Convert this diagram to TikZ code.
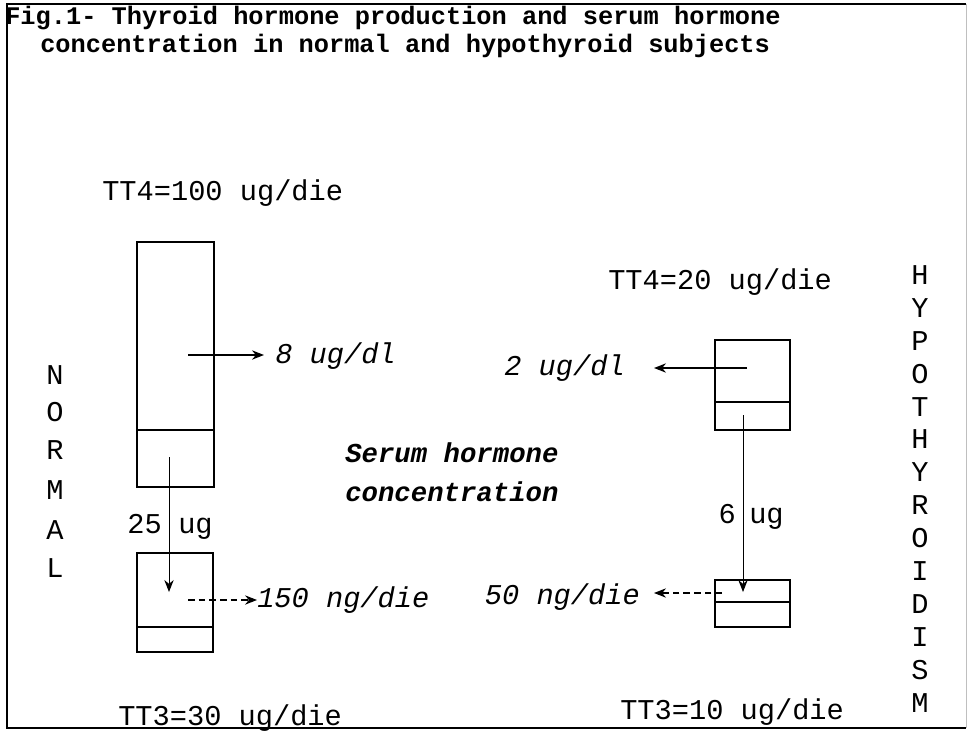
\documentclass[tikz,border=0pt]{standalone}
\usepackage{fontspec}
\usetikzlibrary{arrows.meta}
\newfontfamily\mymono{Liberation Mono}
\newcommand\titfont{\mymono\bfseries\fontsize{19}{22}\selectfont}
\newcommand\lbfont{\mymono\fontsize{21.5}{24}\selectfont}
\newcommand\itfont{\mymono\itshape\fontsize{21.5}{24}\selectfont}
\newcommand\midfont{\mymono\bfseries\itshape\fontsize{20.5}{24}\selectfont}
\begin{document}
\begin{tikzpicture}[x=0.75pt,y=-0.75pt,
  lab/.style={inner sep=0pt,font=\lbfont},
  itlab/.style={inner sep=0pt,font=\itfont},
  midlab/.style={inner sep=0pt,font=\midfont},
  tit/.style={inner sep=0pt,font=\titfont},
  letter/.style={inner sep=0pt,font=\lbfont},
  box/.style={draw,line width=1.3pt,inner sep=0pt},
  divline/.style={line width=1.3pt},
  conc/.style={line width=1pt,-{Stealth[length=9pt,width=7pt]}},
  flow/.style={line width=0.7pt,-{Stealth[length=9pt,width=7pt]}},
  dflow/.style={line width=0.8pt,dash pattern=on 5pt off 3pt,-{Stealth[length=9pt,width=7pt]}}]
\useasboundingbox (0,0) rectangle (969,734);
% frame
\draw[line width=1.2pt] (966,4) -- (7,4) -- (7,728) -- (966,728);
\draw[line width=0.4pt,black!25] (966,4) -- (966,728);
% title
\node[tit,anchor=west] (t1) at (5,18) {Fig.1- Thyroid hormone production and serum hormone};
\node[tit,anchor=west] (t2) at (40,46) {concentration in normal and hypothyroid subjects};
% left (normal) boxes
\node[box,minimum width=57.75pt,minimum height=183.75pt] (bT4) at (175.5,364.5) {};
\draw[divline] (137,430) -- (214,430);
\node[box,minimum width=57pt,minimum height=74.25pt] (bT3) at (175,602.5) {};
\draw[divline] (137,627) -- (213,627);
% right (hypothyroid) boxes
\node[box,minimum width=56.25pt,minimum height=67.5pt] (hT4) at (752.5,385) {};
\draw[line width=2pt] (715,402) -- (790,402);
\node[box,minimum width=56.25pt,minimum height=35.25pt] (hT3) at (752.5,603.5) {};
\draw[divline] (715,602) -- (790,602);
% labels left
\node[lab,anchor=west] (tt4n) at (102,193) {TT4=100 ug/die};
\node[lab,anchor=west] (tt3n) at (118,718) {TT3=30 ug/die};
\node[itlab,anchor=west] (c8) at (275,356) {8 ug/dl};
\node[itlab,anchor=west] (c150) at (257,600) {150 ng/die};
\node[lab,anchor=base east] (n25) at (162,533) {25};
\node[lab,anchor=base west] (nug) at (178,533) {ug};
% labels right
\node[lab,anchor=west] (tt4h) at (608,282) {TT4=20 ug/die};
\node[lab,anchor=west] (tt3h) at (620,712) {TT3=10 ug/die};
\node[itlab,anchor=east] (c2) at (625,368) {2 ug/dl};
\node[itlab,anchor=east] (c50) at (640,597) {50 ng/die};
\node[lab,anchor=base east] (h6) at (736,523) {6};
\node[lab,anchor=base west] (hug) at (749,523) {ug};
% middle
\node[midlab,anchor=west] (s1) at (345,453) {Serum hormone};
\node[midlab,anchor=west] (s2) at (345,492) {concentration};
% side words
\foreach \l/\y [count=\i] in {N/375,O/412,R/450,M/490,A/530,L/568}
  \node[letter] (nl\i) at (55,\y) {\l};
\foreach \l [count=\i] in {H,Y,P,O,T,H,Y,R,O,I,D,I,S,M}
  \node[letter] (hl\i) at (920,{275+(\i-1)*32.9}) {\l};
% connector end points
\coordinate (a1) at (188,355);
\coordinate (a1e) at (264,355);
\coordinate (a2) at (747,368);
\coordinate (a2e) at (654,368);
\coordinate (v1s) at (169,457);
\coordinate (v1e) at (169,592);
\coordinate (v2s) at (743,415);
\coordinate (v2e) at (743,592);
\coordinate (d1) at (188,600);
\coordinate (d2) at (722,593);
\coordinate (d2e) at (654,593);
% connectors
\draw[conc] (a1) -- (a1e);
\draw[conc] (a2) -- (a2e);
\draw[flow] (v1s) -- (v1e);
\draw[flow] (v2s) -- (v2e);
\draw[dflow] (d1) -- (c150.west);
\draw[dflow] (d2) -- (d2e);
\end{tikzpicture}
\end{document}
